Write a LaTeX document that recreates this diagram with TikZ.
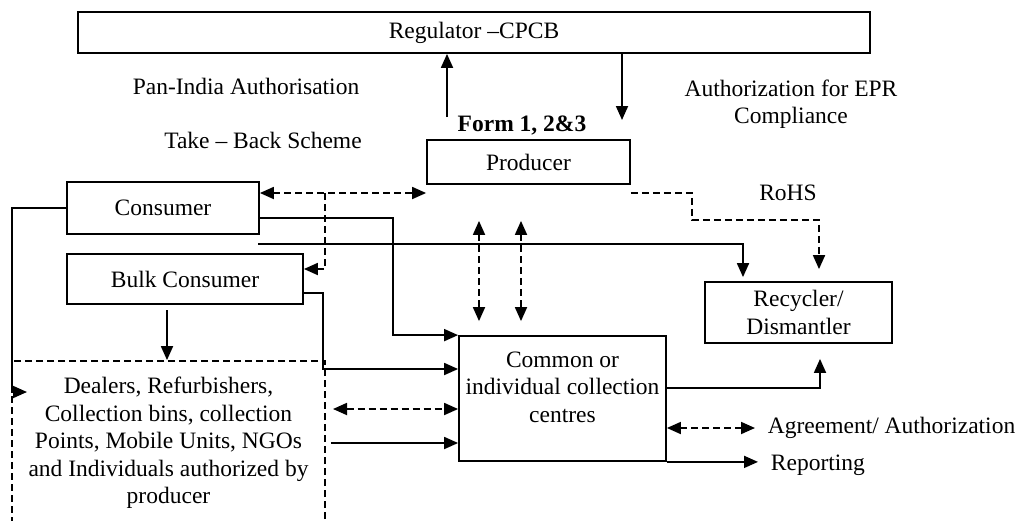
\documentclass[tikz,border=0pt]{standalone}
\usepackage{fontspec}
\setmainfont{Liberation Serif}
\usetikzlibrary{arrows.meta}
\begin{document}
\begin{tikzpicture}[x=1pt, y=-1pt, line width=1.8pt, >={Triangle[length=14pt,width=12pt]},
    every node/.style={font=\fontsize{23.5}{27.5}\selectfont, inner sep=0pt},
    box/.style={draw, align=center},
    dsh/.style={dash pattern=on 7pt off 4pt}]
        \useasboundingbox (0,0) rectangle (1016,520);
        \node[box, minimum width=792pt, minimum height=41pt] (reg) at (474,32.5) {Regulator –CPCB};
        \node[box, minimum width=203pt, minimum height=44pt] (producer) at (528.5,162) {Producer};
        \node[box, minimum width=192pt, minimum height=52pt] (consumer) at (163,208) {Consumer};
        \node[box, minimum width=236pt, minimum height=50pt] (bulk) at (185,279) {Bulk Consumer};
        \node[box, minimum width=187pt, minimum height=61pt] (recycler) at (798.5,312.5) {Recycler/\\Dismantler};
        \node[box, minimum width=207pt, minimum height=125pt] (centre) at (562.5,398.5) {};
        \node[align=center] (centretxt) at (562.5,387) {Common or\\individual collection\\centres};
        \node[box, dsh, minimum width=313pt, minimum height=164pt] (dealers) at (168.5,443) {Dealers, Refurbishers,\\Collection bins, collection\\Points, Mobile Units, NGOs\\and Individuals authorized by\\producer};
        \node[font=\bfseries\fontsize{23.5}{27.5}\selectfont] (form) at (522,125) {Form 1, 2\&3};
        \node (panindia) at (246,86) {Pan-India Authorisation};
        \node (takeback) at (263,140) {Take – Back Scheme};
        \node[align=center] (eprauth) at (791,104) {Authorization for EPR\\Compliance};
        \node (rohs) at (788,193) {RoHS};
        \node[anchor=west] (agree) at (767,428) {Agreement/ Authorization};
        \node[anchor=west] (report) at (770,465) {Reporting};
        \coordinate (fup) at (447,117);
        \coordinate (fdown) at (622,120);
        \coordinate (tb) at (325,193);
        \coordinate (tbk) at (325,269);
        \coordinate (rohsA) at (692,220);
        \coordinate (rohsB) at (819,220);
        \coordinate (cA) at (393,218);
        \coordinate (lA) at (258,244);
        \coordinate (lB) at (743,244);
        \coordinate (vA) at (479,0);
        \coordinate (vB) at (521,0);
        \coordinate (rB) at (820,388);
        \coordinate (cl) at (12,392);
        \coordinate (bd) at (167,310);
        \coordinate (bA) at (323,293);
        \coordinate (bB) at (323,369);
        \coordinate (dA) at (333,409);
        \draw[->] (fup) -- (fup |- reg.south);
        \draw[->] (fdown |- reg.south) -- (fdown);
        \draw[dsh, <->] (consumer.east |- tb) -- (producer.west |- tb);
        \draw[dsh, ->] (tb) -- (tbk) -- (bulk.east |- tbk);
        \draw[dsh, ->, shorten >=12pt] (producer.east |- tb) -| (rohsA) -- (rohsB) -- (rohsB |- recycler.north);
        \draw[->] (consumer.east |- cA) -- (cA) |- (centre.north west);
        \draw[->, shorten >=4pt] (lA) -- (lB) -- (lB |- recycler.north);
        \draw[dsh, <->, shorten <=36pt, shorten >=14pt] (producer.south -| vA) -- (centre.north -| vA);
        \draw[dsh, <->, shorten <=36pt, shorten >=14pt] (producer.south -| vB) -- (centre.north -| vB);
        \draw[->, shorten >=15pt] (centre.east |- rB) -- (rB) -- (rB |- recycler.south);
        \draw[dsh, <->, shorten >=12pt] (centre.east |- agree) -- (agree.west);
        \draw[->, shorten >=12pt] (centre.south east) -- (centre.south east -| report.west);
        \draw[->] (consumer.west) -| (cl) -- ++(15,0);
        \draw[->] (bd) -- (bd |- dealers.north);
        \draw[->] (bulk.east |- bA) -- (bA) -- (bB) -- (centre.west |- bB);
        \draw[dsh, <->] (dA) -- (centre.west |- dA);
        \draw[->, shorten <=5pt] (dealers.east) -- (centre.west |- dealers.east);
    \end{tikzpicture}
\end{document}
